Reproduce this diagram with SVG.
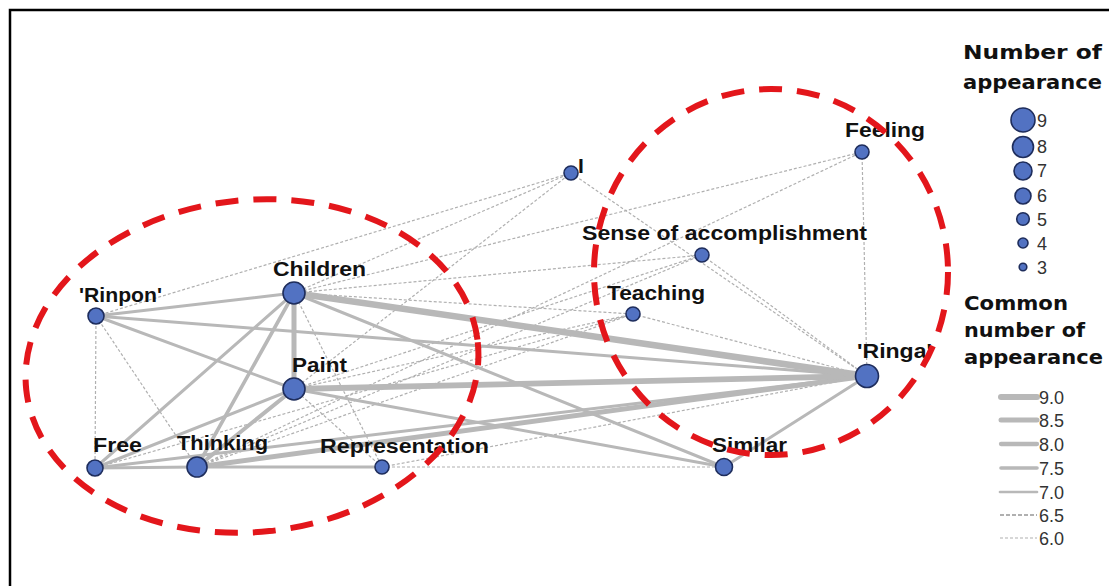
<svg xmlns="http://www.w3.org/2000/svg" width="1109" height="586" viewBox="0 0 1109 586">
<style>
.e{stroke:#b8b8b8;fill:none;stroke-linecap:round}
.d{stroke:#b0b0b0;fill:none;stroke-width:1.2;stroke-dasharray:3 2}
.d2{stroke:#b0b0b0;fill:none;stroke-width:1.8;stroke-dasharray:4 2}
.n{fill:#5272c2;stroke:#1e2d5c;stroke-width:1.6}
.lb{font-family:"Liberation Sans",Arial,sans-serif;font-size:21px;font-weight:bold;fill:#111}
.lg{font-family:"Liberation Sans",Arial,sans-serif;font-size:18px;fill:#333}
.tt{font-family:"DejaVu Sans",Verdana,sans-serif;font-weight:bold;font-size:20px;fill:#111}
.red{fill:none;stroke:#e3161b;stroke-width:6;stroke-dasharray:23 15}
</style>
<rect width="1109" height="586" fill="#fff"/>
<path d="M10,586 V10 H1109" fill="none" stroke="#000" stroke-width="2.5"/>

<g id="connectors">
<line class="d" x1="96" y1="316" x2="95" y2="468"/>
<line class="d" x1="96" y1="316" x2="197" y2="467"/>
<line class="d" x1="96" y1="316" x2="571" y2="173"/>
<line class="d" x1="294" y1="293" x2="571" y2="173"/>
<line class="d" x1="294" y1="293" x2="862" y2="152"/>
<line class="d" x1="294" y1="293" x2="702" y2="255"/>
<line class="d" x1="294" y1="293" x2="633" y2="314"/>
<line class="d" x1="294" y1="293" x2="382" y2="467"/>
<line class="d" x1="294" y1="389" x2="571" y2="173"/>
<line class="d" x1="294" y1="389" x2="702" y2="255"/>
<line class="d" x1="294" y1="389" x2="633" y2="314"/>
<line class="d" x1="294" y1="389" x2="382" y2="467"/>
<line class="d" x1="197" y1="467" x2="702" y2="255"/>
<line class="d" x1="197" y1="467" x2="633" y2="314"/>
<line class="d" x1="197" y1="467" x2="862" y2="152"/>
<line class="d" x1="95" y1="468" x2="633" y2="314"/>
<line class="d" x1="382" y1="467" x2="867" y2="376"/>
<line class="d" x1="382" y1="467" x2="724" y2="467"/>
<line class="d" x1="862" y1="152" x2="867" y2="376"/>
<line class="d" x1="702" y1="255" x2="867" y2="376"/>
<line class="d" x1="571" y1="173" x2="867" y2="376"/>
<line class="d" x1="633" y1="314" x2="867" y2="376"/>
<line class="e" stroke-width="3" x1="96" y1="316" x2="294" y2="293"/>
<line class="e" stroke-width="3" x1="96" y1="316" x2="867" y2="376"/>
<line class="e" stroke-width="3" x1="96" y1="316" x2="294" y2="389"/>
<line class="e" stroke-width="3" x1="95" y1="468" x2="294" y2="293"/>
<line class="e" stroke-width="3" x1="95" y1="468" x2="294" y2="389"/>
<line class="e" stroke-width="3" x1="95" y1="468" x2="197" y2="467"/>
<line class="e" stroke-width="3" x1="197" y1="467" x2="382" y2="467"/>
<line class="e" stroke-width="3" x1="95" y1="468" x2="867" y2="376"/>
<line class="e" stroke-width="3" x1="294" y1="293" x2="724" y2="467"/>
<line class="e" stroke-width="3" x1="294" y1="389" x2="724" y2="467"/>
<line class="e" stroke-width="3" x1="724" y1="467" x2="867" y2="376"/>
<line class="e" stroke-width="3.6" x1="294" y1="293" x2="197" y2="467"/>
<line class="e" stroke-width="4" x1="294" y1="389" x2="197" y2="467"/>
<line class="e" stroke-width="5" x1="197" y1="467" x2="867" y2="376"/>
<line class="e" stroke-width="5" x1="294" y1="293" x2="294" y2="389"/>
<line class="e" stroke-width="5.8" x1="294" y1="389" x2="867" y2="376"/>
<line class="e" stroke-width="6.6" x1="294" y1="293" x2="867" y2="376"/>
</g>

<g id="node-children"><circle class="n" cx="294" cy="293" r="11"/><text class="lb" x="273" y="276" textLength="93" lengthAdjust="spacingAndGlyphs">Children</text></g>
<g id="node-rinpon"><circle class="n" cx="96" cy="316" r="8"/><text class="lb" x="79" y="302" textLength="83" lengthAdjust="spacingAndGlyphs">'Rinpon'</text></g>
<g id="node-paint"><circle class="n" cx="294" cy="389" r="11"/><text class="lb" x="292" y="372" textLength="55" lengthAdjust="spacingAndGlyphs">Paint</text></g>
<g id="node-free"><circle class="n" cx="95" cy="468" r="8"/><text class="lb" x="93" y="452" textLength="49" lengthAdjust="spacingAndGlyphs">Free</text></g>
<g id="node-thinking"><circle class="n" cx="197" cy="467" r="10"/><text class="lb" x="177" y="450" textLength="91" lengthAdjust="spacingAndGlyphs">Thinking</text></g>
<g id="node-representation"><circle class="n" cx="382" cy="467" r="7"/><text class="lb" x="320" y="453" textLength="169" lengthAdjust="spacingAndGlyphs">Representation</text></g>
<g id="node-similar"><circle class="n" cx="724" cy="467" r="8.5"/><text class="lb" x="712" y="452" textLength="75" lengthAdjust="spacingAndGlyphs">Similar</text></g>
<g id="node-ringa"><circle class="n" cx="867" cy="376" r="11.5"/><text class="lb" x="857" y="358" textLength="75" lengthAdjust="spacingAndGlyphs">'Ringa'</text></g>
<g id="node-teaching"><circle class="n" cx="633" cy="314" r="7"/><text class="lb" x="607" y="300" textLength="98" lengthAdjust="spacingAndGlyphs">Teaching</text></g>
<g id="node-sense"><circle class="n" cx="702" cy="255" r="7"/><text class="lb" x="582" y="240" textLength="285" lengthAdjust="spacingAndGlyphs">Sense of accomplishment</text></g>
<g id="node-feeling"><circle class="n" cx="862" cy="152" r="7"/><text class="lb" x="845" y="137" textLength="80" lengthAdjust="spacingAndGlyphs">Feeling</text></g>
<g id="node-i"><circle class="n" cx="571" cy="173" r="7"/><text class="lb" x="578" y="173">I</text></g>

<g id="highlight">
<ellipse class="red" cx="252" cy="366" rx="227" ry="166" transform="rotate(-6 252 366)"/>
<ellipse class="red" cx="771" cy="272" rx="177" ry="183"/>
</g>

<g id="legend-size">
<text class="tt" x="963" y="59" textLength="139" lengthAdjust="spacingAndGlyphs">Number of</text>
<text class="tt" x="963" y="89" textLength="139" lengthAdjust="spacingAndGlyphs">appearance</text>
<circle class="n" cx="1023" cy="120" r="12"/>
<circle class="n" cx="1023" cy="147" r="10.5"/>
<circle class="n" cx="1023" cy="171" r="9"/>
<circle class="n" cx="1023" cy="196" r="8"/>
<circle class="n" cx="1023" cy="219" r="6.3"/>
<circle class="n" cx="1023" cy="243" r="5"/>
<circle class="n" cx="1023" cy="267" r="3.8"/>
<text class="lg" x="1037" y="127">9</text>
<text class="lg" x="1037" y="153">8</text>
<text class="lg" x="1037" y="177">7</text>
<text class="lg" x="1037" y="202">6</text>
<text class="lg" x="1037" y="226">5</text>
<text class="lg" x="1037" y="250">4</text>
<text class="lg" x="1037" y="274">3</text>
</g>

<g id="legend-line">
<text class="tt" x="964" y="310" textLength="104" lengthAdjust="spacingAndGlyphs">Common</text>
<text class="tt" x="964" y="337" textLength="121" lengthAdjust="spacingAndGlyphs">number of</text>
<text class="tt" x="964" y="364" textLength="139" lengthAdjust="spacingAndGlyphs">appearance</text>
<line class="e" stroke-width="6" x1="1001" y1="397" x2="1037" y2="397"/>
<line class="e" stroke-width="5" x1="1001" y1="420" x2="1037" y2="420"/>
<line class="e" stroke-width="4.3" x1="1001" y1="444" x2="1037" y2="444"/>
<line class="e" stroke-width="3.6" x1="1001" y1="468" x2="1037" y2="468"/>
<line class="e" stroke-width="2.7" x1="1000" y1="492" x2="1037" y2="492"/>
<line class="d2" x1="1000" y1="515" x2="1037" y2="515"/>
<line class="d" x1="1000" y1="538" x2="1037" y2="538"/>
<text class="lg" x="1039" y="404">9.0</text>
<text class="lg" x="1039" y="427">8.5</text>
<text class="lg" x="1039" y="451">8.0</text>
<text class="lg" x="1039" y="475">7.5</text>
<text class="lg" x="1039" y="499">7.0</text>
<text class="lg" x="1039" y="522">6.5</text>
<text class="lg" x="1039" y="545">6.0</text>
</g>
</svg>
